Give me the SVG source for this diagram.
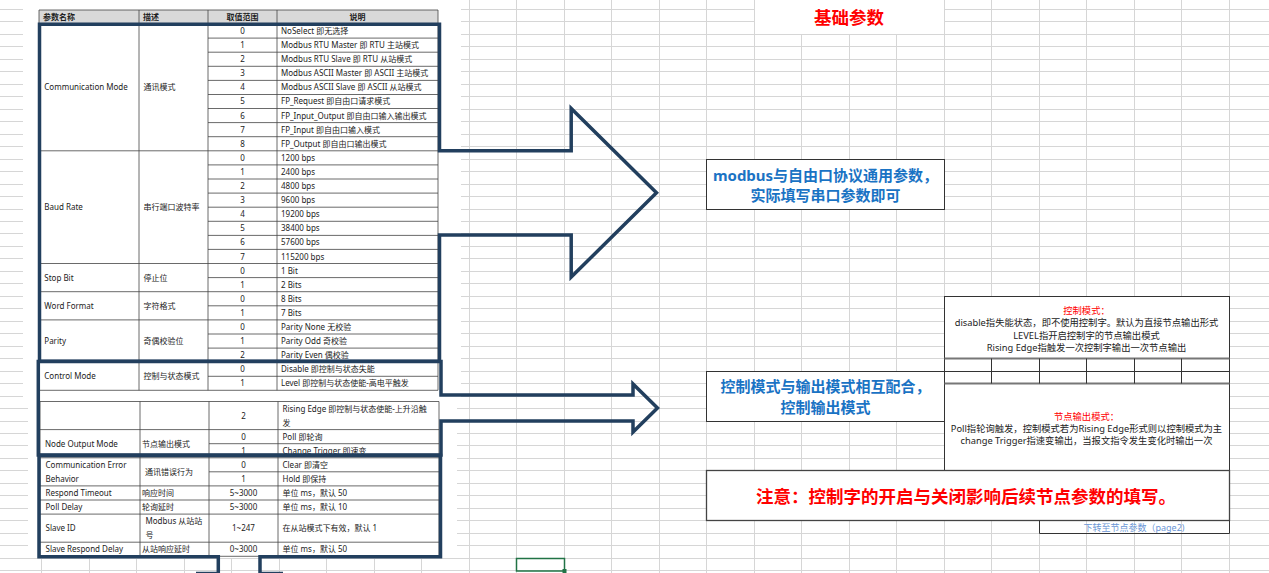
<svg xmlns="http://www.w3.org/2000/svg" width="1269" height="573" viewBox="0 0 1269 573">
<style>
.t{font-family:"Noto Sans","Noto Sans CJK SC",sans-serif;font-size:8px;fill:#222}
.h{font-weight:bold}
.c{text-anchor:middle}
.tl{stroke:#444;stroke-width:0.8;fill:none}
.grid{stroke:#d6d6d6;stroke-width:1;fill:none}
.thick{stroke:#223f5e;stroke-width:3.5;fill:none;stroke-linejoin:miter}
.box{fill:#fff;stroke:#333;stroke-width:1}
.blue{font-family:"Noto Sans","Noto Sans CJK SC",sans-serif;font-size:15px;font-weight:bold;fill:#1a73c4;text-anchor:middle}
.nt{font-family:"Noto Sans","Noto Sans CJK SC",sans-serif;font-size:9.3px;fill:#222;text-anchor:middle}
.red{fill:#ff0000}
.big{font-family:"Noto Sans","Noto Sans CJK SC",sans-serif;font-size:17.5px;font-weight:bold;fill:#ff0000;text-anchor:middle}
</style>
<rect x="0" y="0" width="1269" height="573" fill="#fff"/>
<g id="sheet-grid">
<path class="grid" d="M0 9.5H1269M0 21.5H1269M0 34.5H1269M0 46.5H1269M0 59.5H1269M0 71.5H1269M0 84.5H1269M0 96.5H1269M0 109.5H1269M0 121.5H1269M0 134.5H1269M0 146.5H1269M0 159.5H1269M0 171.5H1269M0 184.5H1269M0 196.5H1269M0 209.5H1269M0 221.5H1269M0 233.5H1269M0 246.5H1269M0 258.5H1269M0 271.5H1269M0 283.5H1269M0 296.5H1269M0 308.5H1269M0 321.5H1269M0 333.5H1269M0 346.5H1269M0 358.5H1269M0 371.5H1269M0 383.5H1269M0 396.5H1269M0 408.5H1269M0 421.5H1269M0 433.5H1269M0 445.5H1269M0 458.5H1269M0 470.5H1269M0 483.5H1269M0 495.5H1269M0 508.5H1269M0 520.5H1269M0 533.5H1269M0 545.5H1269M0 558.5H1269M0 570.5H1269"/>
<path class="grid" d="M41.5 0V573M89.5 0V573M136.5 0V573M184.5 0V573M231.5 0V573M279.5 0V573M326.5 0V573M374.5 0V573M421.5 0V573M469.5 0V573M516.5 0V573M564.5 0V573M611.5 0V573M659.5 0V573M706.5 0V573M754.5 0V573M801.5 0V573M849.5 0V573M896.5 0V573M944.5 0V573M991.5 0V573M1039.5 0V573M1086.5 0V573M1134.5 0V573M1181.5 0V573M1229.5 0V573"/>
<rect x="23" y="0" width="438" height="400" fill="#fff"/>
<rect x="28" y="400" width="429" height="158" fill="#fff"/>
</g>
<g id="title">
<rect x="755" y="0" width="189" height="34" fill="#fff"/>
<text class="big" x="849" y="23.5">基础参数</text>
</g>
<g id="table">
<rect x="39" y="10" width="399" height="14" fill="#d9d9d9"/>
<path class="tl" d="M39 10H438M39 24H438M39 150.8H438M39 263.5H438M39 291.7H438M39 319.9H438M39 362.2H438M39 390.3H438M208 38.1H438M208 52.2H438M208 66.3H438M208 80.4H438M208 94.5H438M208 108.5H438M208 122.6H438M208 136.7H438M208 164.9H438M208 179H438M208 193.1H438M208 207.2H438M208 221.3H438M208 235.4H438M208 249.4H438M208 277.6H438M208 305.8H438M208 334H438M208 348.1H438M208 376.3H438M39 10V390.3M139 10V390.3M208 10V390.3M277 10V390.3M438 10V390.3"/>
<path class="tl" d="M40 401.5H439M40 429.6H439M40 457.8H439M40 485.9H439M40 500H439M40 514.1H439M40 542.2H439M40 556.3H439M209 443.7H439M209 471.8H439M40 401.5V556.3M140 401.5V556.3M209 401.5V556.3M278 401.5V556.3M439 401.5V556.3"/>
<text class="t h" x="43" y="20">参数名称</text>
<text class="t h" x="143" y="20">描述</text>
<text class="t h c" x="242.5" y="20">取值范围</text>
<text class="t h c" x="357.5" y="20">说明</text>
<text class="t" x="44.3" y="90.3">Communication Mode</text>
<text class="t" x="143.5" y="90.3">通讯模式</text>
<text class="t c" x="242.5" y="33.9">0</text><text class="t" x="281" y="33.9">NoSelect 即无选择</text>
<text class="t c" x="242.5" y="48">1</text><text class="t" x="281" y="48">Modbus RTU Master  即 RTU 主站模式</text>
<text class="t c" x="242.5" y="62.1">2</text><text class="t" x="281" y="62.1">Modbus RTU Slave  即 RTU 从站模式</text>
<text class="t c" x="242.5" y="76.2">3</text><text class="t" x="281" y="76.2">Modbus ASCII Master  即 ASCII 主站模式</text>
<text class="t c" x="242.5" y="90.3">4</text><text class="t" x="281" y="90.3">Modbus ASCII Slave  即 ASCII 从站模式</text>
<text class="t c" x="242.5" y="104.4">5</text><text class="t" x="281" y="104.4">FP_Request  即自由口请求模式</text>
<text class="t c" x="242.5" y="118.5">6</text><text class="t" x="281" y="118.5">FP_Input_Output  即自由口输入输出模式</text>
<text class="t c" x="242.5" y="132.6">7</text><text class="t" x="281" y="132.6">FP_Input  即自由口输入模式</text>
<text class="t c" x="242.5" y="146.7">8</text><text class="t" x="281" y="146.7">FP_Output 即自由口输出模式</text>
<text class="t" x="44.3" y="210.1">Baud Rate</text>
<text class="t" x="143.5" y="210.1">串行端口波特率</text>
<text class="t c" x="242.5" y="160.8">0</text><text class="t" x="281" y="160.8">1200 bps</text>
<text class="t c" x="242.5" y="174.9">1</text><text class="t" x="281" y="174.9">2400 bps</text>
<text class="t c" x="242.5" y="189">2</text><text class="t" x="281" y="189">4800 bps</text>
<text class="t c" x="242.5" y="203.1">3</text><text class="t" x="281" y="203.1">9600 bps</text>
<text class="t c" x="242.5" y="217.2">4</text><text class="t" x="281" y="217.2">19200 bps</text>
<text class="t c" x="242.5" y="231.3">5</text><text class="t" x="281" y="231.3">38400 bps</text>
<text class="t c" x="242.5" y="245.4">6</text><text class="t" x="281" y="245.4">57600 bps</text>
<text class="t c" x="242.5" y="259.5">7</text><text class="t" x="281" y="259.5">115200 bps</text>
<text class="t" x="44.3" y="280.5">Stop Bit</text>
<text class="t" x="143.5" y="280.5">停止位</text>
<text class="t c" x="242.5" y="273.5">0</text><text class="t" x="281" y="273.5">1 Bit</text>
<text class="t c" x="242.5" y="287.6">1</text><text class="t" x="281" y="287.6">2 Bits</text>
<text class="t" x="44.3" y="308.7">Word Format</text>
<text class="t" x="143.5" y="308.7">字符格式</text>
<text class="t c" x="242.5" y="301.7">0</text><text class="t" x="281" y="301.7">8 Bits</text>
<text class="t c" x="242.5" y="315.8">1</text><text class="t" x="281" y="315.8">7 Bits</text>
<text class="t" x="44.3" y="343.9">Parity</text>
<text class="t" x="143.5" y="343.9">奇偶校验位</text>
<text class="t c" x="242.5" y="329.9">0</text><text class="t" x="281" y="329.9">Parity None 无校验</text>
<text class="t c" x="242.5" y="344">1</text><text class="t" x="281" y="344">Parity Odd 奇校验</text>
<text class="t c" x="242.5" y="358">2</text><text class="t" x="281" y="358">Parity Even 偶校验</text>
<text class="t" x="44.3" y="379.2">Control Mode</text>
<text class="t" x="143.5" y="379.2">控制与状态模式</text>
<text class="t c" x="242.5" y="372.1">0</text><text class="t" x="281" y="372.1">Disable  即控制与状态失能</text>
<text class="t c" x="242.5" y="386.2">1</text><text class="t" x="281" y="386.2">Level 即控制与状态使能-高电平触发</text>
<text class="t c" x="243.5" y="418.5">2</text>
<text class="t" x="282.5" y="412">Rising Edge  即控制与状态使能-上升沿触</text>
<text class="t" x="282.5" y="426.2">发</text>
<text class="t" x="45" y="446.6">Node Output Mode</text>
<text class="t" x="142" y="446.6">节点输出模式</text>
<text class="t c" x="243.5" y="439.6">0</text><text class="t" x="282.5" y="439.6">Poll 即轮询</text>
<text class="t c" x="243.5" y="453.6">1</text><text class="t" x="282.5" y="453.6">Change Trigger 即速变</text>
<text class="t" x="45.5" y="467.7">Communication Error</text>
<text class="t" x="45.5" y="481.8">Behavior</text>
<text class="t" x="145" y="474.7">通讯错误行为</text>
<text class="t c" x="243.5" y="467.7">0</text><text class="t" x="282.5" y="467.7">Clear 即清空</text>
<text class="t c" x="243.5" y="481.8">1</text><text class="t" x="282.5" y="481.8">Hold 即保持</text>
<text class="t" x="45.5" y="495.9">Respond Timeout</text>
<text class="t" x="142" y="495.9">响应时间</text>
<text class="t c" x="243.5" y="495.9">5~3000</text><text class="t" x="282.5" y="495.9">单位 ms，默认 50</text>
<text class="t" x="45.5" y="509.9">Poll Delay</text>
<text class="t" x="142" y="509.9">轮询延时</text>
<text class="t c" x="243.5" y="509.9">5~3000</text><text class="t" x="282.5" y="509.9">单位 ms，默认 10</text>
<text class="t" x="45.5" y="531.1">Slave ID</text>
<text class="t" x="145.5" y="523.9">Modbus 从站站</text>
<text class="t" x="145.5" y="537.9">号</text>
<text class="t c" x="243.5" y="531.1">1~247</text><text class="t" x="282.5" y="531.1">在从站模式下有效，默认 1</text>
<text class="t" x="45.5" y="552.1">Slave Respond Delay</text>
<text class="t" x="142" y="552.1">从站响应延时</text>
<text class="t c" x="243.5" y="552.1">0~3000</text><text class="t" x="282.5" y="552.1">单位 ms，默认 50</text>
</g>
<g id="connectors">
<path class="thick" d="M39.5 24.3H439.5V150.8H571.2V108.5L656.5 192.8L571.2 277.1V235H439.5V361.3H39.5Z"/>
<path class="thick" d="M38.3 361.5H441V395H633V384L657.5 408L633 432V421H441V455H38.3Z"/>
<path class="thick" d="M196 573.5H218.3V556.7H39V455.5H440.5V556.7H260V573.5H283"/>
</g>
<g id="box-modbus">
<rect class="box" x="706.5" y="159.5" width="238" height="50"/>
<text class="blue" x="825.5" y="180.5">modbus与自由口协议通用参数，</text>
<text class="blue" x="825.5" y="200.5">实际填写串口参数即可</text>
</g>
<g id="box-control">
<rect class="box" x="706.5" y="371.5" width="238" height="50"/>
<text class="blue" x="825.5" y="391.5">控制模式与输出模式相互配合，</text>
<text class="blue" x="825.5" y="413">控制输出模式</text>
</g>
<g id="box-notes">
<rect class="box" x="944.5" y="296.5" width="285" height="174"/>
<path d="M944.5 358.5H1229.5M944.5 383.5H1229.5" stroke="#777" stroke-width="2" fill="none"/>
<path d="M944.5 371.5H1229.5M991.5 358.5V383.5M1039.5 358.5V383.5M1086.5 358.5V383.5M1134.5 358.5V383.5M1181.5 358.5V383.5" stroke="#333" stroke-width="1" fill="none"/>
<text class="nt red" x="1086.5" y="313.5">控制模式：</text>
<text class="nt" x="1086.5" y="326">disable指失能状态，即不使用控制字。默认为直接节点输出形式</text>
<text class="nt" x="1086.5" y="338.5">LEVEL指开启控制字的节点输出模式</text>
<text class="nt" x="1086.5" y="351">Rising Edge指触发一次控制字输出一次节点输出</text>
<text class="nt red" x="1086.5" y="419.5">节点输出模式：</text>
<text class="nt" x="1086.5" y="431.5">Poll指轮询触发，控制模式若为Rising Edge形式则以控制模式为主</text>
<text class="nt" x="1086.5" y="444">change Trigger指速变输出，当报文指令发生变化时输出一次</text>
</g>
<g id="box-warning">
<rect x="706.5" y="470.5" width="523" height="50" fill="#fff" stroke="#444" stroke-width="1.3"/>
<text class="big" x="966" y="502.5">注意：控制字的开启与关闭影响后续节点参数的填写。</text>
</g>
<g id="link">
<path d="M1039.5 520.5V533.5H1229.5V520.5" stroke="#333" stroke-width="1" fill="none"/>
<text x="1134" y="530.5" font-family="Noto Sans, Noto Sans CJK SC, sans-serif" font-size="9" fill="#6a96d6" text-anchor="middle">下转至节点参数（page2)</text>
</g>
<g id="selection">
<rect x="516.5" y="558.5" width="48" height="12.5" fill="none" stroke="#217346" stroke-width="1.5"/>
<rect x="562.5" y="569" width="4" height="4" fill="#217346"/>
</g>
</svg>
